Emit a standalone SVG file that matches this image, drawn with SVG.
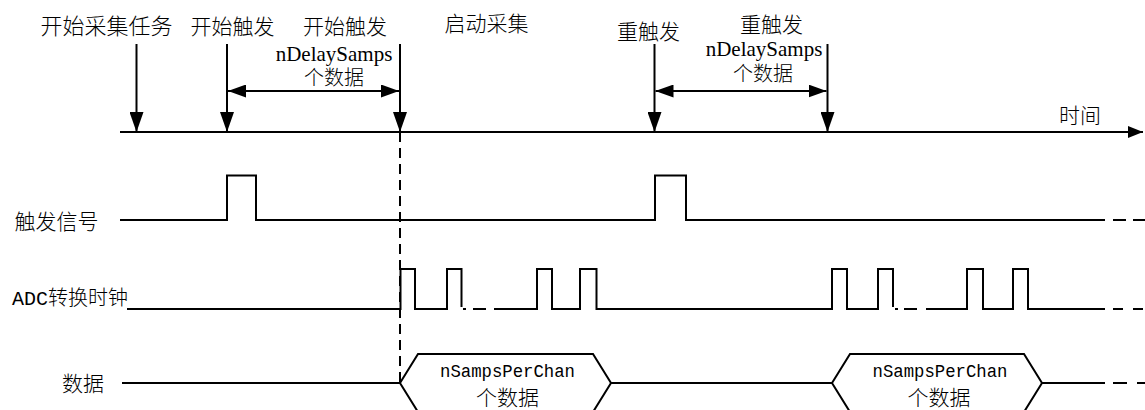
<svg xmlns="http://www.w3.org/2000/svg" width="1145" height="410" viewBox="0 0 1145 410">
<style>
.ln{fill:none;stroke:#000;stroke-width:2}
.dsh{fill:none;stroke:#000;stroke-width:2;stroke-dasharray:10 6}
.cn{font-family:"Liberation Serif","Noto Sans CJK SC",serif;font-size:21px;font-weight:300;fill:#000;text-anchor:middle}
.lat{font-family:"Liberation Serif","Noto Sans CJK SC",serif;font-size:21px;fill:#000;text-anchor:middle}
.mono{font-family:"Liberation Mono","Noto Sans CJK SC",monospace;font-size:18px;fill:#000;text-anchor:middle}
</style>
<defs>
<marker id="ah" viewBox="0 0 20 14" refX="20" refY="7" markerWidth="20" markerHeight="14" markerUnits="userSpaceOnUse" orient="auto-start-reverse">
<path d="M0,0 L20,7 L0,14 z" fill="#000"/>
</marker>
<marker id="ah2" viewBox="0 0 18 13" refX="18" refY="6.5" markerWidth="18" markerHeight="13" markerUnits="userSpaceOnUse" orient="auto-start-reverse">
<path d="M0,0 L18,6.5 L0,13 z" fill="#000"/>
</marker>
<marker id="ah3" viewBox="0 0 15 12" refX="15" refY="6" markerWidth="15" markerHeight="12" markerUnits="userSpaceOnUse" orient="auto">
<path d="M0,0 L15,6 L0,12 z" fill="#000"/>
</marker>
</defs>

<g id="axis">
<line class="ln" x1="120" y1="132" x2="1143" y2="132" marker-end="url(#ah3)"/>
<text class="cn" x="1080" y="123">时间</text>
</g>

<g id="connectors">
<line class="ln" x1="136.5" y1="44" x2="136.5" y2="132" marker-end="url(#ah)"/>
<line class="ln" x1="227" y1="44" x2="227" y2="132" marker-end="url(#ah)"/>
<line class="ln" x1="400" y1="44" x2="400" y2="132" marker-end="url(#ah)"/>
<line class="ln" x1="654.5" y1="44" x2="654.5" y2="132" marker-end="url(#ah)"/>
<line class="ln" x1="827.5" y1="44" x2="827.5" y2="132" marker-end="url(#ah)"/>
<line class="ln" x1="228" y1="91" x2="399" y2="91" marker-start="url(#ah2)" marker-end="url(#ah2)"/>
<line class="ln" x1="655.5" y1="91" x2="826.5" y2="91" marker-start="url(#ah2)" marker-end="url(#ah2)"/>
<line class="dsh" x1="400" y1="132" x2="400" y2="383"/>
</g>

<g id="label-start-task"><text class="cn" x="106.5" y="34" style="font-size:22px">开始采集任务</text></g>
<g id="label-start-trigger"><text class="cn" x="232.5" y="34">开始触发</text></g>
<g id="label-start-delay">
<text class="cn" x="345" y="34">开始触发</text>
<text class="lat" x="334" y="61">nDelaySamps</text>
<text class="cn" x="334" y="85" style="font-size:20px">个数据</text>
</g>
<g id="label-start-acq"><text class="cn" x="486.5" y="31">启动采集</text></g>
<g id="label-retrigger"><text class="cn" x="648.5" y="39">重触发</text></g>
<g id="label-retrigger-delay">
<text class="cn" x="771.5" y="32">重触发</text>
<text class="lat" x="764" y="56">nDelaySamps</text>
<text class="cn" x="763" y="81" style="font-size:20px">个数据</text>
</g>

<g id="trigger-signal">
<text class="cn" x="56.5" y="229">触发信号</text>
<path class="ln" d="M120,220 H227 V175.5 H256 V220 H655 V175.5 H686 V220 H1105"/>
<path class="ln" d="M1113,220 H1126 M1133,220 H1145"/>
</g>

<g id="adc-clock">
<text x="70" y="305" style="font-family:'Liberation Mono','Noto Sans CJK SC',monospace;font-size:20px;font-weight:300;fill:#000;text-anchor:middle" textLength="116" lengthAdjust="spacingAndGlyphs">ADC转换时钟</text>
<path class="ln" d="M127,309 H400.5 V269 H415 V309 H447 V269 H461.5 V307"/>
<path class="ln" d="M463,309 H466 M473,309 H486"/>
<path class="ln" d="M494,309 H537 V269 H552 V309 H580 V269 H596.5 V309 H832 V269 H847 V309 H878 V269 H893 V307"/>
<path class="ln" d="M895,309 H898 M904,309 H917"/>
<path class="ln" d="M926,309 H967 V269 H983 V309 H1013 V269 H1028 V309 H1105"/>
<path class="ln" d="M1113,309 H1123 M1133,309 H1143"/>
</g>

<g id="data">
<text class="cn" x="83" y="391">数据</text>
<path class="ln" d="M122,383 H400"/>
<path class="ln" d="M611,383 H832"/>
<path class="ln" d="M1042,383 H1105"/>
<path class="ln" d="M1113,383 H1127 M1137,383 H1145"/>
</g>

<g id="data-block-1">
<polygon class="ln" points="400,383 418,354 593,354 611,383 593,412 418,412"/>
<text class="mono" x="507.5" y="377" textLength="135" lengthAdjust="spacingAndGlyphs">nSampsPerChan</text>
<text class="cn" x="507.5" y="405">个数据</text>
</g>

<g id="data-block-2">
<polygon class="ln" points="832,383 850,354 1024,354 1042,383 1024,412 850,412"/>
<text class="mono" x="940" y="377" textLength="135" lengthAdjust="spacingAndGlyphs">nSampsPerChan</text>
<text class="cn" x="939" y="405">个数据</text>
</g>
</svg>
